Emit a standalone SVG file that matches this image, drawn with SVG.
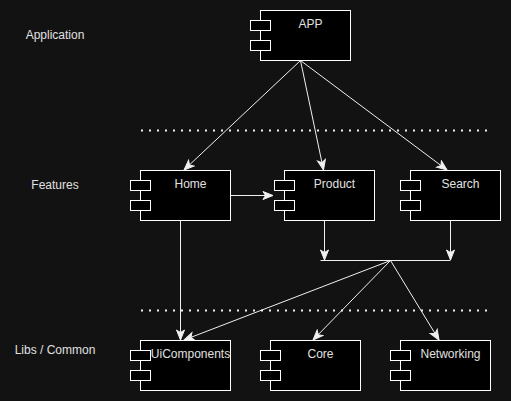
<svg xmlns="http://www.w3.org/2000/svg" width="511" height="401" viewBox="0 0 511 401">
<style>
.box{fill:#000;stroke:#fff;stroke-width:1}
.lbl{font-family:"Liberation Sans",Arial,sans-serif;font-size:12px;fill:#e0e0e0;text-anchor:middle}
.c{stroke:#f0f0f0;stroke-width:1;fill:none}
.dot{stroke:#f0f0f0;stroke-width:2;stroke-dasharray:2 6;fill:none}
</style>
<defs>
<marker id="ar" markerUnits="userSpaceOnUse" markerWidth="12" markerHeight="10" viewBox="0 0 12 10" refX="11" refY="5" orient="auto">
<path d="M1,1 L11,5 L1,9 L3.5,5 Z" fill="#f0f0f0" stroke="#f0f0f0" stroke-width="1"/>
</marker>
<g id="comp">
<rect class="box" x="0" y="0" width="90" height="50"/>
<rect class="box" x="-10" y="10" width="20" height="10"/>
<rect class="box" x="-10" y="30" width="20" height="10"/>
</g>
</defs>
<rect x="0" y="0" width="511" height="401" fill="#121212"/>
<g id="layers">
<text class="lbl" x="55" y="39">Application</text>
<text class="lbl" x="55" y="189">Features</text>
<text class="lbl" x="55" y="354">Libs / Common</text>
<line class="dot" x1="141" y1="130.5" x2="490" y2="130.5"/>
<line class="dot" x1="141" y1="310.5" x2="490" y2="310.5"/>
</g>
<g id="connectors">
<line class="c" x1="300.5" y1="60.5" x2="184" y2="170" marker-end="url(#ar)"/>
<line class="c" x1="300.5" y1="60.5" x2="323.5" y2="170" marker-end="url(#ar)"/>
<line class="c" x1="300.5" y1="60.5" x2="447" y2="170" marker-end="url(#ar)"/>
<line class="c" x1="230.5" y1="195.5" x2="273" y2="195.5" marker-end="url(#ar)"/>
<line class="c" x1="180.5" y1="220.5" x2="180.5" y2="340" marker-end="url(#ar)"/>
<line class="c" x1="324.5" y1="220.5" x2="324.5" y2="260" marker-end="url(#ar)"/>
<line class="c" x1="450.5" y1="220.5" x2="450.5" y2="260" marker-end="url(#ar)"/>
<line class="c" x1="320.5" y1="260.5" x2="450.5" y2="260.5"/>
<line class="c" x1="390.5" y1="260.5" x2="184" y2="340" marker-end="url(#ar)"/>
<line class="c" x1="390.5" y1="260.5" x2="313" y2="340" marker-end="url(#ar)"/>
<line class="c" x1="390.5" y1="260.5" x2="439" y2="340" marker-end="url(#ar)"/>
</g>
<g id="app"><use href="#comp" x="260.5" y="10.5"/><text class="lbl" x="310.5" y="28">APP</text></g>
<g id="home"><use href="#comp" x="140.5" y="170.5"/><text class="lbl" x="190.5" y="188">Home</text></g>
<g id="product"><use href="#comp" x="284.5" y="170.5"/><text class="lbl" x="334.5" y="188">Product</text></g>
<g id="search"><use href="#comp" x="410.5" y="170.5"/><text class="lbl" x="460.5" y="188">Search</text></g>
<g id="uicomponents"><use href="#comp" x="140.5" y="340.5"/><text class="lbl" x="190.5" y="358">UiComponents</text></g>
<g id="core"><use href="#comp" x="270.5" y="340.5"/><text class="lbl" x="320.5" y="358">Core</text></g>
<g id="networking"><use href="#comp" x="400.5" y="340.5"/><text class="lbl" x="450.5" y="358">Networking</text></g>
</svg>
